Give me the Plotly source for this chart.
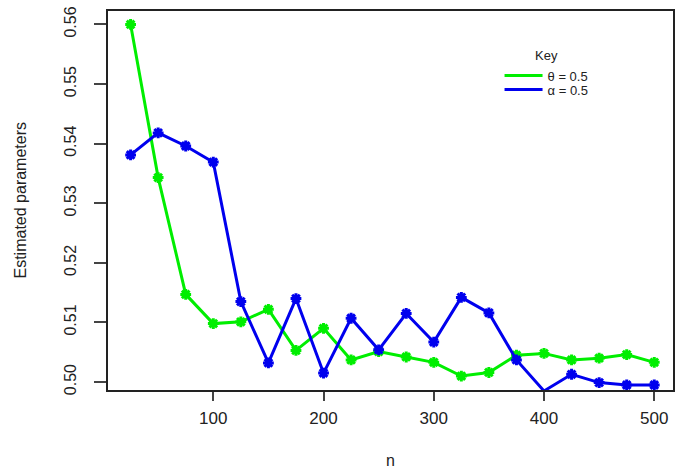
import plotly.graph_objects as go

n_values = [25, 50, 75, 100, 125, 150, 175, 200, 225, 250,
            275, 300, 325, 350, 375, 400, 425, 450, 475, 500]
theta_est = [0.5600, 0.5343, 0.5147, 0.5098, 0.5101, 0.5122, 0.5053, 0.5090, 0.5037, 0.5051,
             0.5042, 0.5033, 0.5010, 0.5016, 0.5045, 0.5048, 0.5037, 0.5040, 0.5046, 0.5033]
alpha_est = [0.5381, 0.5418, 0.5396, 0.5369, 0.5135, 0.5032, 0.5140, 0.5015, 0.5107, 0.5054,
             0.5115, 0.5067, 0.5142, 0.5116, 0.5037, 0.4985, 0.5013, 0.4999, 0.4995, 0.4995]
series_names = ["\u03b8 = 0.5", "\u03b1 = 0.5"]
x_ticks = [100, 200, 300, 400, 500]
y_ticks = [0.50, 0.51, 0.52, 0.53, 0.54, 0.55, 0.56]

colors = ["#00EE00", "#0000EE"]

fig = go.Figure()
for vals, name, col in [(theta_est, series_names[0], colors[0]),
                        (alpha_est, series_names[1], colors[1])]:
    fig.add_trace(go.Scatter(
        x=n_values, y=vals, name=name, mode="lines+markers",
        line=dict(color=col, width=3),
        marker=dict(symbol="asterisk-open", size=9, color=col,
                    line=dict(color=col, width=3)),
        cliponaxis=False, showlegend=False,
    ))
# legend entries (line only, as in the reference key)
for name, col, lg in zip(series_names, colors, ["legend", "legend2"]):
    fig.add_trace(go.Scatter(
        x=[None], y=[None], name=name, mode="lines",
        line=dict(color=col, width=3), showlegend=True, legend=lg,
    ))

font = "Liberation Sans, Arial, sans-serif"
leg_common = dict(xanchor="left", yanchor="top", bgcolor="rgba(0,0,0,0)",
                  borderwidth=0, font=dict(size=13, color="#222222"),
                  itemwidth=38, tracegroupgap=0)
fig.update_layout(
    width=675, height=474,
    margin=dict(l=108, r=2, t=11, b=84, autoexpand=False),
    paper_bgcolor="white", plot_bgcolor="white",
    font=dict(family=font, size=14, color="#222222"),
    showlegend=True,
    hovermode=False,
    legend=dict(x=0.693, y=0.914,
                title=dict(text="Key", side="top center", font=dict(size=13)),
                **leg_common),
    legend2=dict(x=0.693, y=0.914 - 0.082, **leg_common),
    xaxis=dict(
        range=[4.5, 517], tickvals=x_ticks, ticks="outside", ticklen=9,
        tickcolor="#444444", tickwidth=1.5, automargin=False,
        ticklabelstandoff=3,
        showgrid=False, zeroline=False, showline=True, linecolor="#222222",
        linewidth=1.5, mirror=True,
        tickfont=dict(size=17),
    ),
    yaxis=dict(
        range=[0.49866, 0.56225], tickvals=y_ticks, tickformat=".2f",
        ticks="outside", ticklen=12, tickcolor="#444444", tickwidth=1.5,
        tickangle=-90, ticklabelstandoff=12, automargin=False,
        showgrid=False, zeroline=False, showline=True, linecolor="#222222",
        linewidth=1.5, mirror=True,
        tickfont=dict(size=16),
    ),
    annotations=[
        dict(text="Estimated parameters", xref="paper", yref="paper",
             x=0, y=0.5, xanchor="center", yanchor="middle", xshift=-88,
             textangle=-90, showarrow=False, font=dict(size=16)),
        dict(text="n", xref="paper", yref="paper",
             x=0.5, y=0, xanchor="center", yanchor="middle", yshift=-70,
             showarrow=False, font=dict(size=16)),
    ],
)

fig.write_html("out.html",
               config={"displayModeBar": False},
               post_script="document.body.style.margin='0';"
                           "document.body.style.overflow='hidden';")
